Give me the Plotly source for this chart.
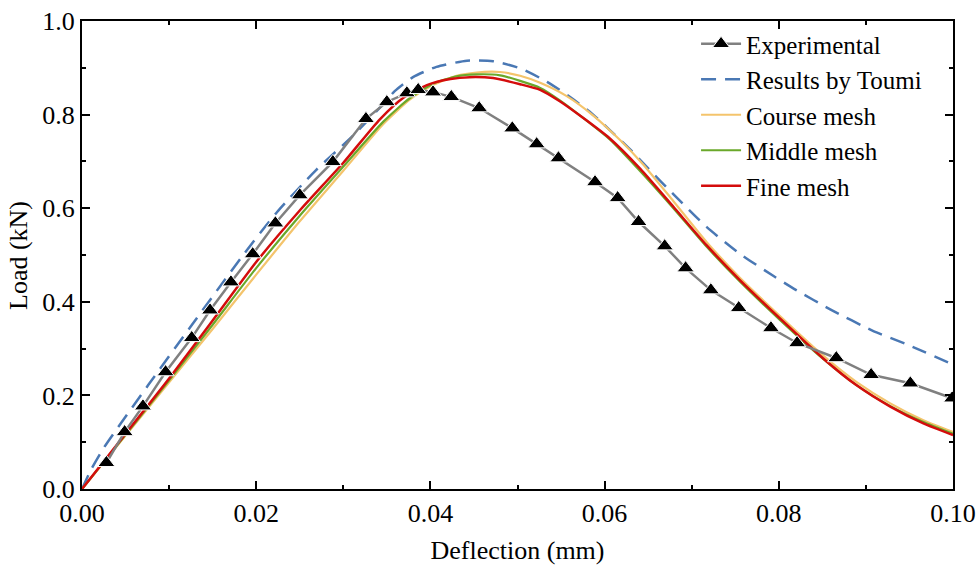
import plotly.graph_objects as go

# Experimental load-deflection points
exp_x = [0.0028, 0.0049, 0.0070, 0.0096, 0.0126, 0.0147, 0.0171, 0.0196, 0.0222, 0.0250,
         0.0288, 0.0326, 0.0350, 0.0373, 0.0386, 0.0403, 0.0424, 0.0456, 0.0494, 0.0522,
         0.0547, 0.0589, 0.0615, 0.0639, 0.0669, 0.0693, 0.0722, 0.0754, 0.0791, 0.0821,
         0.0866, 0.0906, 0.0951, 0.0999]
exp_y = [0.056, 0.122, 0.177, 0.250, 0.323, 0.382, 0.442, 0.502, 0.568, 0.628,
         0.699, 0.791, 0.827, 0.846, 0.853, 0.848, 0.838, 0.814, 0.771, 0.737,
         0.707, 0.656, 0.622, 0.571, 0.519, 0.472, 0.425, 0.387, 0.344, 0.312,
         0.280, 0.244, 0.226, 0.194]

# Results by Toumi
toumi_x = [0.0, 0.0010, 0.0025, 0.0076, 0.0124, 0.0185, 0.0224, 0.0269, 0.0310, 0.0342,
           0.0359, 0.0380, 0.0407, 0.0442, 0.0472, 0.0503, 0.0534, 0.0560, 0.0583, 0.0606,
           0.0629, 0.0650, 0.0680, 0.0717, 0.0755, 0.0794, 0.0820, 0.0859, 0.0908, 0.0947,
           0.1000]
toumi_y = [0.0, 0.040, 0.088, 0.222, 0.345, 0.500, 0.592, 0.682, 0.753, 0.815,
           0.850, 0.880, 0.902, 0.915, 0.914, 0.899, 0.870, 0.838, 0.806, 0.767,
           0.726, 0.685, 0.628, 0.560, 0.503, 0.455, 0.425, 0.384, 0.338, 0.309,
           0.266]

# Course mesh
course_x = [0.0, 0.0050, 0.0100, 0.0150, 0.0200, 0.0250, 0.0300, 0.0346, 0.0377, 0.0403,
            0.0430, 0.0453, 0.0480, 0.0503, 0.0526, 0.0556, 0.0587, 0.0618, 0.0644, 0.0679,
            0.0717, 0.0755, 0.0801, 0.0851, 0.0889, 0.0928, 0.0966, 0.1000]
course_y = [0.0, 0.114, 0.228, 0.342, 0.458, 0.572, 0.680, 0.780, 0.833, 0.863,
            0.883, 0.890, 0.891, 0.883, 0.868, 0.840, 0.798, 0.745, 0.694, 0.615,
            0.528, 0.452, 0.370, 0.285, 0.229, 0.183, 0.147, 0.122]

# Middle mesh
middle_x = [0.0, 0.0050, 0.0100, 0.0150, 0.0200, 0.0250, 0.0300, 0.0346, 0.0377, 0.0403,
            0.0430, 0.0453, 0.0480, 0.0503, 0.0526, 0.0549, 0.0576, 0.0606, 0.0641, 0.0679,
            0.0717, 0.0755, 0.0801, 0.0851, 0.0889, 0.0928, 0.0966, 0.1000]
middle_y = [0.0, 0.116, 0.232, 0.351, 0.472, 0.584, 0.689, 0.785, 0.836, 0.866,
            0.882, 0.886, 0.884, 0.872, 0.857, 0.830, 0.792, 0.747, 0.679, 0.600,
            0.518, 0.444, 0.362, 0.278, 0.222, 0.177, 0.143, 0.118]

# Fine mesh
fine_x = [0.0, 0.0050, 0.0100, 0.0150, 0.0200, 0.0250, 0.0300, 0.0342, 0.0369, 0.0396,
          0.0423, 0.0445, 0.0472, 0.0503, 0.0526, 0.0549, 0.0576, 0.0606, 0.0641, 0.0679,
          0.0717, 0.0755, 0.0801, 0.0851, 0.0889, 0.0928, 0.0966, 0.1000]
fine_y = [0.0, 0.118, 0.236, 0.360, 0.485, 0.595, 0.697, 0.790, 0.836, 0.863,
          0.876, 0.880, 0.878, 0.865, 0.853, 0.828, 0.792, 0.749, 0.684, 0.603,
          0.521, 0.447, 0.365, 0.279, 0.222, 0.176, 0.140, 0.115]

x_ticks = [0.00, 0.02, 0.04, 0.06, 0.08, 0.10]
y_ticks = [0.0, 0.2, 0.4, 0.6, 0.8, 1.0]

FONT = "Liberation Serif"

fig = go.Figure()

fig.add_trace(go.Scatter(
    x=toumi_x, y=toumi_y, mode="lines", name="Results by Toumi",
    line=dict(color="#4a78b4", width=2.5, dash="15px,9px", shape="spline", smoothing=0.6),
    legendgroup="b", legendrank=2,
))
fig.add_trace(go.Scatter(
    x=course_x, y=course_y, mode="lines", name="Course mesh",
    line=dict(color="#f4c46c", width=2.2, shape="spline", smoothing=0.6),
    legendgroup="c", legendrank=3,
))
fig.add_trace(go.Scatter(
    x=middle_x, y=middle_y, mode="lines", name="Middle mesh",
    line=dict(color="#6aa82a", width=2.2, shape="spline", smoothing=0.6),
    legendgroup="d", legendrank=4,
))
fig.add_trace(go.Scatter(
    x=fine_x, y=fine_y, mode="lines", name="Fine mesh",
    line=dict(color="#d40c0c", width=2.5, shape="spline", smoothing=0.6),
    legendgroup="e", legendrank=5,
))
fig.add_trace(go.Scatter(
    x=exp_x, y=exp_y, mode="lines+markers", name="Experimental",
    line=dict(color="#808080", width=2.5),
    marker=dict(symbol="triangle-up", size=15, color="black",
                line=dict(color="white", width=1)),
    legendgroup="a", legendrank=1,
))

axis_common = dict(
    showline=True, linecolor="black", linewidth=2, mirror="allticks",
    ticks="inside", ticklen=8, tickwidth=2, tickcolor="black",
    showgrid=False, zeroline=False, automargin=False,
    tickfont=dict(family=FONT, size=26, color="black"),
)

fig.update_xaxes(
    range=[0, 0.1], tickvals=x_ticks, tickformat=".2f",
    title=dict(text="Deflection (mm)", font=dict(family=FONT, size=26, color="black"),
               standoff=24),
    minor=dict(dtick=0.01, ticks="inside", ticklen=4, tickwidth=1.5, tickcolor="black"),
    **axis_common,
)
fig.update_yaxes(
    range=[0, 1.0], tickvals=y_ticks, tickformat=".1f",
    minor=dict(dtick=0.1, ticks="inside", ticklen=4, tickwidth=1.5, tickcolor="black"),
    **axis_common,
)

# Vertical axis title placed as a rotated annotation
fig.add_annotation(
    text="Load (kN)", textangle=-90, showarrow=False,
    xref="paper", yref="paper", x=-0.0735, y=0.5,
    xanchor="center", yanchor="middle",
    font=dict(family=FONT, size=26, color="black"),
)

fig.update_layout(
    width=980, height=565,
    margin=dict(l=82, r=27, t=21, b=76),
    paper_bgcolor="white", plot_bgcolor="white",
    font=dict(family=FONT, size=26, color="black"),
    legend=dict(
        x=0.705, y=1.0, xanchor="left", yanchor="top",
        bgcolor="rgba(0,0,0,0)", borderwidth=0,
        font=dict(family=FONT, size=25, color="black"),
        tracegroupgap=0, itemwidth=40,
    ),
    showlegend=True,
)

fig.write_html("out.html")
